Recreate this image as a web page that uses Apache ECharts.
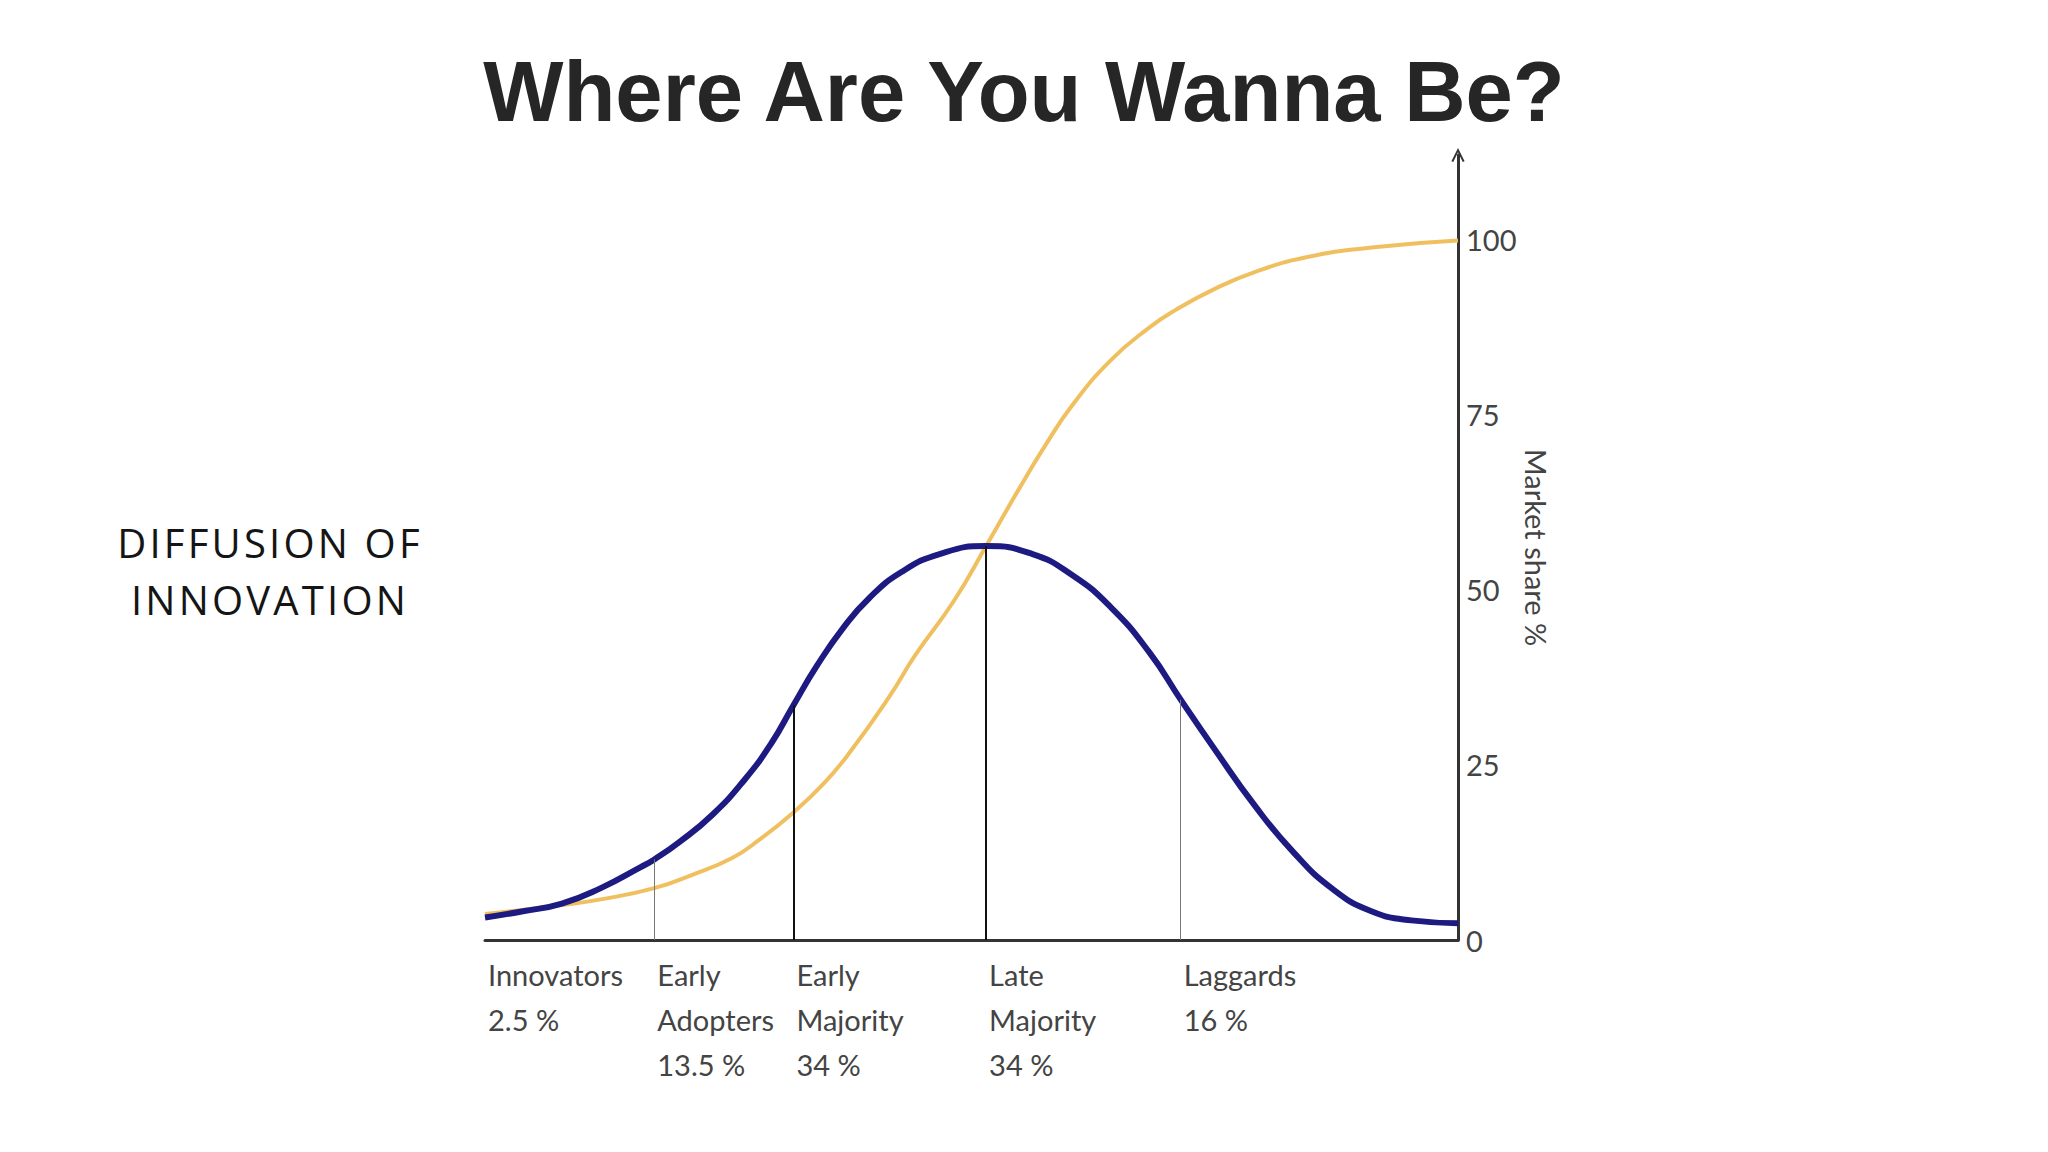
<!DOCTYPE html>
<html>
<head>
<meta charset="utf-8">
<title>Where Are You Wanna Be?</title>
<script src="https://cdn.jsdelivr.net/npm/echarts@6/dist/echarts.min.js"></script>
<style>
  html, body { margin: 0; padding: 0; background: #fff; }
  #chart { width: 2048px; height: 1152px; }
  /* the side caption is set with wide tracking */
  #chart text[style*="Open Sans"], #chart tspan[style*="Open Sans"],
  #chart text[font-family*="Open Sans"] { letter-spacing: 3.2px; }
</style>
</head>
<body>
<div id="chart"></div>
<script>
// adoption curve (bell), x in % of the time axis
var bellX = [0, 3.9, 7.9, 11.9, 16.0, 17.4, 20.0, 23.4, 26.7, 29.4, 31.7, 34.1, 36.8, 39.5, 42.8, 46.8, 51.5, 56.2, 60.3, 64.3, 68.3, 71.5, 75.0, 79.1, 83.1, 87.1, 91.1, 95.2, 100];
var bellY = [3.2, 4.1, 5.2, 7.4, 10.4, 11.5, 14.0, 17.9, 22.9, 28.0, 33.5, 39.1, 44.5, 48.8, 52.5, 55.1, 56.2, 55.1, 52.1, 47.5, 41.0, 34.3, 27.2, 19.2, 12.5, 7.3, 4.1, 2.8, 2.4];

// cumulative market share (S curve)
var shareX = [0, 3.9, 7.9, 11.9, 17.4, 21.3, 25.4, 28.1, 31.7, 34.8, 37.4, 41.5, 44.2, 48.2, 51.5, 54.9, 57.6, 60.3, 64.3, 68.3, 71.0, 75.0, 79.1, 84.4, 91.1, 100];
var shareY = [3.7, 4.3, 5.0, 5.8, 7.4, 9.3, 11.7, 14.2, 18.2, 22.3, 26.6, 34.6, 40.6, 48.4, 56.2, 64.4, 70.6, 76.2, 82.7, 87.4, 89.9, 92.9, 95.3, 97.4, 98.8, 99.8];

// adopter groups
var groupStart = [0, 17.4, 31.7, 51.5, 71.5];
var groupNames = ['Innovators', 'Early\nAdopters', 'Early\nMajority', 'Late\nMajority', 'Laggards'];
var groupShares = ['2.5 %', '13.5 %', '34 %', '34 %', '16 %'];

// divider lines between groups (x, height of bell)
var dividerX = [17.4, 31.7, 51.5, 71.5];
var dividerTop = [11.5, 33.5, 56.2, 34.3];
var dividerBold = [false, true, true, false];

var yTicks = [0, 25, 50, 75, 100];

function pairs(xs, ys) {
    var out = [];
    for (var i = 0; i < xs.length; i++) out.push([xs[i], ys[i]]);
    return out;
}

var dividerLines = dividerX.map(function (x, i) {
    return [
        { coord: [x, 0] },
        {
            coord: [x, dividerTop[i]],
            lineStyle: dividerBold[i]
                ? { color: '#111', width: 2, type: 'solid' }
                : { color: '#777', width: 1, type: 'solid' }
        }
    ];
});

var myChart = echarts.init(document.getElementById('chart'), null, { renderer: 'svg' });
var labelFont = 'Lato, sans-serif';

var option = {
    backgroundColor: '#ffffff',
    animation: false,
    title: {
        text: 'Where Are You Wanna Be?',
        left: 'center',
        top: 44,
        textStyle: {
            fontFamily: '"Liberation Sans", Arial, sans-serif',
            fontSize: 85,
            fontWeight: 'bold',
            color: '#262626'
        }
    },
    graphic: [{
        type: 'text',
        x: 270,
        y: 571,
        style: {
            text: 'DIFFUSION OF\nINNOVATION',
            align: 'center',
            verticalAlign: 'middle',
            lineHeight: 57,
            font: '40px "Open Sans", sans-serif',
            fill: '#151515'
        }
    }],
    grid: {
        left: 485,
        right: 590,
        top: 155,
        bottom: 212
    },
    xAxis: {
        type: 'value',
        min: 0,
        max: 100,
        splitLine: { show: false },
        axisTick: { show: false },
        axisLine: { show: true, lineStyle: { color: '#333', width: 3 } },
        axisLabel: {
            customValues: groupStart,
            hideOverlap: false,
            align: 'left',
            verticalAlign: 'top',
            margin: 12,
            padding: [0, 0, 0, 3],
            lineHeight: 45,
            fontSize: 29,
            fontFamily: labelFont,
            color: '#444',
            formatter: function (v) {
                var i = groupStart.indexOf(v);
                if (i < 0) return '';
                return groupNames[i] + '\n' + groupShares[i];
            }
        }
    },
    yAxis: {
        type: 'value',
        position: 'right',
        min: 0,
        max: 112,
        interval: 25,
        splitLine: { show: false },
        axisTick: { show: false },
        axisLine: {
            show: true,
            onZero: false,
            symbol: ['none', 'path://M0,10 L5,0 L10,10 L8.6,10.6 L5,3.2 L1.4,10.6 Z'],
            symbolSize: [14, 14],
            lineStyle: { color: '#333', width: 3 }
        },
        axisLabel: {
            margin: 8,
            fontSize: 29,
            fontFamily: labelFont,
            color: '#444',
            formatter: function (v) {
                return yTicks.indexOf(v) >= 0 ? String(v) : '';
            }
        },
        name: 'Market share %',
        nameLocation: 'middle',
        nameRotate: -90,
        nameGap: 64,
        nameTextStyle: {
            fontSize: 29,
            fontFamily: labelFont,
            color: '#444'
        }
    },
    series: [
        {
            name: 'Market share',
            type: 'line',
            data: pairs(shareX, shareY),
            smooth: 0.5,
            showSymbol: false,
            lineStyle: { color: '#f0c060', width: 4 },
            z: 2
        },
        {
            name: 'Adopters',
            type: 'line',
            data: pairs(bellX, bellY),
            smooth: 0.5,
            showSymbol: false,
            lineStyle: { color: '#1d1a82', width: 6 },
            z: 3,
            markLine: {
                silent: true,
                symbol: ['none', 'none'],
                label: { show: false },
                data: dividerLines
            }
        }
    ]
};

myChart.setOption(option);
</script>
</body>
</html>
